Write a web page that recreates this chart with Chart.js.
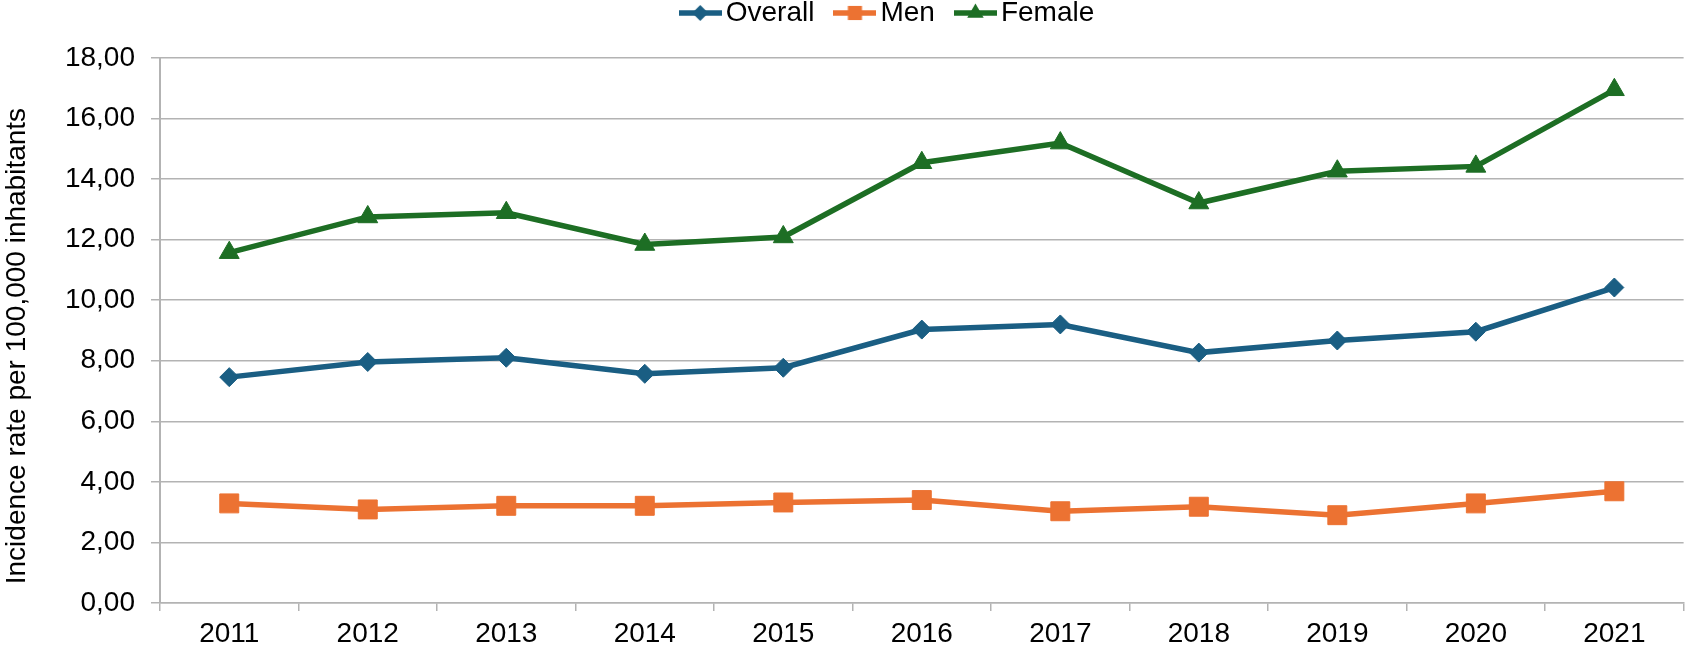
<!DOCTYPE html>
<html>
<head>
<meta charset="utf-8">
<script src="https://cdn.jsdelivr.net/npm/chart.js@4.4.1/dist/chart.umd.min.js"></script>
<style>
  html, body { margin: 0; padding: 0; background: #fff; }
  #wrap { width: 1698px; height: 648px; position: relative; }
</style>
</head>
<body>
<div id="wrap"><canvas id="chart"></canvas></div>
<script>
// Data
const years = ['2011', '2012', '2013', '2014', '2015', '2016', '2017', '2018', '2019', '2020', '2021'];
const overall = [7.46, 7.96, 8.10, 7.57, 7.77, 9.03, 9.20, 8.27, 8.67, 8.96, 10.42];
const men = [3.29, 3.09, 3.21, 3.21, 3.32, 3.40, 3.03, 3.18, 2.90, 3.29, 3.69];
const female = [11.57, 12.75, 12.89, 11.84, 12.09, 14.54, 15.19, 13.21, 14.26, 14.42, 16.95];
const yTicks = [0, 2, 4, 6, 8, 10, 12, 14, 16, 18];

const BLUE = '#1a5e83';
const ORANGE = '#ec7232';
const GREEN = '#1d6e24';
const GRID = '#b3b3b3';
const FONT = { family: '"Liberation Sans", Arial, sans-serif', size: 28 };

// legend icon: short line with the series marker in the middle
function legendIcon(color, style, radius) {
  const c = document.createElement('canvas');
  c.width = 43;
  c.height = 24;
  const ctx = c.getContext('2d');
  ctx.strokeStyle = color;
  ctx.fillStyle = color;
  ctx.lineWidth = 5.5;
  ctx.beginPath();
  ctx.moveTo(0, 12);
  ctx.lineTo(43, 12);
  ctx.stroke();
  Chart.helpers.drawPoint(ctx, { pointStyle: style, radius: radius, rotation: 0, borderWidth: 0 }, 21.5, 12);
  return c;
}

const icons = [
  legendIcon(BLUE, 'rectRot', 8),
  legendIcon(ORANGE, 'rect', 10),
  legendIcon(GREEN, 'triangle', 9.5)
];

// pin the legend box and move it where the reference has it
const layoutTweak = {
  id: 'layoutTweak',
  afterInit(chart) {
    const legend = chart.legend;
    const fit = legend.fit.bind(legend);
    legend.fit = function () {
      fit();
      this.height = 58;
    };
  },
  afterLayout(chart) {
    const l = chart.legend;
    l.left += 43;
    l.right += 43;
    l.top -= 30;
    l.bottom -= 30;
  }
};

function series(label, data, color, style, radius) {
  return {
    label: label,
    data: data,
    borderColor: color,
    backgroundColor: color,
    borderWidth: 5.5,
    tension: 0,
    pointStyle: style,
    pointRadius: radius,
    pointHoverRadius: radius,
    pointBorderWidth: 1,
    pointBorderColor: color,
    pointBackgroundColor: color
  };
}

new Chart(document.getElementById('chart'), {
  type: 'line',
  data: {
    labels: years,
    datasets: [
      series('Overall', overall, BLUE, 'rectRot', 9.5),
      series('Men', men, ORANGE, 'rect', 13.4),
      series('Female', female, GREEN, 'triangle', 11.5)
    ]
  },
  options: {
    responsive: true,
    maintainAspectRatio: false,
    animation: false,
    layout: { padding: { top: 0, right: 1, bottom: 0, left: 0 } },
    plugins: {
      tooltip: { enabled: false },
      legend: {
        position: 'top',
        labels: {
          usePointStyle: true,
          pointStyleWidth: 23,
          padding: 29,
          color: '#000',
          font: FONT,
          generateLabels: (chart) => {
            const items = Chart.defaults.plugins.legend.labels.generateLabels(chart);
            items.forEach((it, i) => { it.pointStyle = icons[i]; });
            return items;
          }
        }
      }
    },
    scales: {
      x: {
        offset: true,
        grid: {
          display: true,
          offset: true,
          drawOnChartArea: false,
          drawTicks: true,
          tickLength: 8,
          color: GRID,
          lineWidth: 1.5
        },
        border: { display: true, color: GRID, width: 1.5 },
        ticks: { color: '#000', font: FONT, padding: 6, maxRotation: 0 },
        afterFit: (scale) => { scale.height = 45; }
      },
      y: {
        min: 0,
        max: 18,
        afterBuildTicks: (scale) => { scale.ticks = yTicks.map(v => ({ value: v })); },
        ticks: {
          color: '#000',
          font: FONT,
          padding: 16,
          callback: (v) => Number(v).toFixed(2).replace('.', ',')
        },
        grid: { color: GRID, lineWidth: 1.5, tickLength: 9 },
        border: { color: GRID, width: 2 },
        title: {
          display: true,
          // trailing spaces nudge the centred title down like the original
          text: 'Incidence rate per 100,000 inhabitants    ',
          color: '#000',
          font: FONT,
          padding: 0
        },
        afterFit: (scale) => { scale.width = 160; }
      }
    }
  },
  plugins: [layoutTweak]
});
</script>
</body>
</html>
